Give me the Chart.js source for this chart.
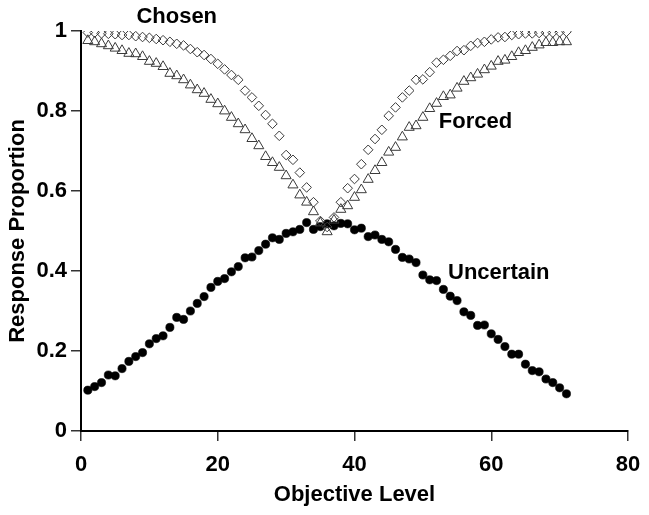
<!DOCTYPE html>
<html>
<head>
<meta charset="utf-8">
<script src="https://cdn.jsdelivr.net/npm/chart.js@4.4.1/dist/chart.umd.min.js"></script>
<style>
    html, body { margin: 0; padding: 0; background: #fff; }
    #chart { display: block; }
</style>
</head>
<body>
<canvas id="chart" width="649" height="515"></canvas>
<script>
// objective levels 1..71
const levels = [1, 2, 3, 4, 5, 6, 7, 8, 9, 10, 11, 12, 13, 14, 15, 16, 17, 18, 19, 20,
    21, 22, 23, 24, 25, 26, 27, 28, 29, 30, 31, 32, 33, 34, 35, 36, 37, 38, 39, 40,
    41, 42, 43, 44, 45, 46, 47, 48, 49, 50, 51, 52, 53, 54, 55, 56, 57, 58, 59, 60,
    61, 62, 63, 64, 65, 66, 67, 68, 69, 70, 71];

const chosen = [0.996, 0.996, 0.994, 0.993, 0.992, 0.990, 0.990, 0.987, 0.985, 0.983,
    0.980, 0.977, 0.973, 0.968, 0.964, 0.955, 0.947, 0.940, 0.930, 0.918,
    0.904, 0.890, 0.878, 0.851, 0.834, 0.813, 0.790, 0.768, 0.738, 0.690,
    0.678, 0.646, 0.609, 0.572, 0.525, 0.510, 0.534, 0.572, 0.607, 0.630,
    0.667, 0.703, 0.730, 0.753, 0.788, 0.809, 0.834, 0.851, 0.878, 0.879,
    0.897, 0.921, 0.928, 0.938, 0.950, 0.952, 0.963, 0.970, 0.973, 0.979,
    0.984, 0.985, 0.990, 0.992, 0.994, 0.994, 0.995, 0.996, 0.996, 0.997, 0.998];

const forced = [0.976, 0.973, 0.968, 0.963, 0.957, 0.951, 0.944, 0.943, 0.936, 0.924,
    0.919, 0.911, 0.894, 0.888, 0.878, 0.865, 0.853, 0.844, 0.829, 0.818,
    0.800, 0.784, 0.768, 0.753, 0.731, 0.713, 0.686, 0.671, 0.659, 0.638,
    0.615, 0.590, 0.572, 0.548, 0.520, 0.498, 0.527, 0.554, 0.563, 0.584,
    0.603, 0.629, 0.651, 0.671, 0.697, 0.709, 0.735, 0.759, 0.763, 0.784,
    0.806, 0.819, 0.836, 0.840, 0.857, 0.874, 0.883, 0.892, 0.903, 0.912,
    0.924, 0.927, 0.936, 0.946, 0.951, 0.959, 0.965, 0.971, 0.971, 0.973, 0.973];

const uncertain = [0.102, 0.111, 0.121, 0.140, 0.138, 0.156, 0.174, 0.186, 0.196, 0.218,
    0.231, 0.238, 0.259, 0.284, 0.279, 0.300, 0.319, 0.336, 0.359, 0.374,
    0.381, 0.398, 0.411, 0.433, 0.435, 0.451, 0.467, 0.483, 0.479, 0.494,
    0.498, 0.504, 0.521, 0.504, 0.511, 0.518, 0.513, 0.519, 0.518, 0.503,
    0.507, 0.486, 0.490, 0.479, 0.473, 0.454, 0.434, 0.430, 0.421, 0.390,
    0.378, 0.376, 0.354, 0.337, 0.326, 0.298, 0.289, 0.264, 0.265, 0.243,
    0.229, 0.211, 0.192, 0.192, 0.167, 0.151, 0.148, 0.130, 0.121, 0.108, 0.093];

const xTicks = [0, 20, 40, 60, 80];
const yTicks = [0, 0.2, 0.4, 0.6, 0.8, 1];

const seriesNames = ['Chosen', 'Forced', 'Uncertain'];

const toPoints = vals => levels.map((lv, i) => ({ x: lv, y: vals[i] }));

// where the series names sit, in data units
const nameAnchors = {
    Chosen: { x: 14.0, y: 1.036 },
    Forced: { x: 57.7, y: 0.773 },
    Uncertain: { x: 61.1, y: 0.395 }
};

const boldFont = size => ({ family: 'Arial, "Liberation Sans", sans-serif', size: size, weight: 'bold' });

const seriesLabels = {
    id: 'seriesLabels',
    afterDatasetsDraw(chart) {
        const ctx = chart.ctx;
        const xs = chart.scales.x, ys = chart.scales.y;
        ctx.save();
        ctx.fillStyle = '#000';
        ctx.font = 'bold 22px Arial, "Liberation Sans", sans-serif';
        ctx.textAlign = 'center';
        ctx.textBaseline = 'middle';
        seriesNames.forEach(name => {
            const a = nameAnchors[name];
            ctx.fillText(name, xs.getPixelForValue(a.x), ys.getPixelForValue(a.y));
        });
        ctx.restore();
    }
};

const ctx = document.getElementById('chart').getContext('2d');
const chart = new Chart(ctx, {
    type: 'scatter',
    data: {
        datasets: [{
            label: 'Chosen',
            data: toPoints(chosen),
            pointStyle: 'rectRot',
            pointRadius: 4.8,
            borderColor: '#3a3a3a',
            backgroundColor: 'rgba(0,0,0,0)',
            borderWidth: 1
        }, {
            label: 'Forced',
            data: toPoints(forced),
            pointStyle: 'triangle',
            pointRadius: 5.8,
            borderColor: '#3a3a3a',
            backgroundColor: 'rgba(0,0,0,0)',
            borderWidth: 1
        }, {
            label: 'Uncertain',
            data: toPoints(uncertain),
            pointStyle: 'circle',
            pointRadius: 4.1,
            borderColor: '#000',
            backgroundColor: '#000',
            borderWidth: 0.6
        }]
    },
    options: {
        responsive: false,
        animation: false,
        devicePixelRatio: 1,
        layout: { padding: { left: 1, right: 21, top: 31, bottom: 0 } },
        plugins: {
            legend: { display: false },
            tooltip: { enabled: false }
        },
        scales: {
            x: {
                type: 'linear',
                min: 0,
                max: 80,
                afterBuildTicks: scale => { scale.ticks = xTicks.map(v => ({ value: v })); },
                afterFit: scale => {
                    scale.height = 84;
                    // labels fit inside the right margin already
                    scale.paddingLeft = 0;
                    scale.paddingRight = 0;
                },
                border: { display: true, color: '#000', width: 2 },
                grid: { drawOnChartArea: false, drawTicks: true, tickLength: 10, color: '#333', lineWidth: 1.5 },
                ticks: { color: '#000', font: boldFont(22), padding: 11, maxRotation: 0 },
                title: {
                    display: true,
                    text: 'Objective Level',
                    color: '#000',
                    font: boldFont(22),
                    padding: { top: 0, bottom: 7 }
                }
            },
            y: {
                type: 'linear',
                min: 0,
                max: 1,
                afterBuildTicks: scale => { scale.ticks = yTicks.map(v => ({ value: v })); },
                afterFit: scale => { scale.width = 80; },
                border: { display: true, color: '#000', width: 2 },
                grid: { drawOnChartArea: false, drawTicks: true, tickLength: 10, color: '#333', lineWidth: 1.5 },
                ticks: { color: '#000', font: boldFont(22), padding: 4, callback: v => String(v) },
                title: {
                    display: true,
                    text: 'Response Proportion',
                    color: '#000',
                    font: boldFont(22),
                    padding: { top: 4, bottom: 0 }
                }
            }
        }
    },
    plugins: [seriesLabels]
});
</script>
</body>
</html>
